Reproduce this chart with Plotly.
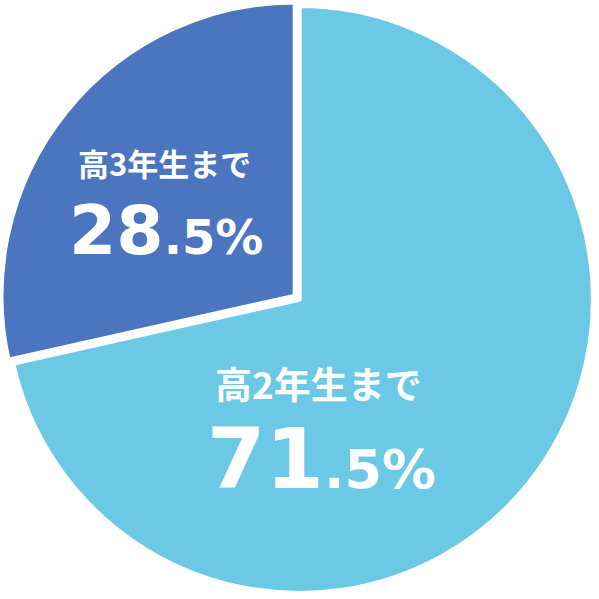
import plotly.graph_objects as go

labels = ['高2年生まで', '高3年生まで']
values = [71.5, 28.5]
colors = ['#6CC9E6', '#4B75BE']

fig = go.Figure()
fig.add_trace(go.Pie(
    labels=labels,
    values=values,
    sort=False,
    direction='clockwise',
    rotation=0,
    pull=[0, 0.02],
    textinfo='none',
    hoverinfo='skip',
    marker={'colors': colors, 'line': {'color': 'white', 'width': 4.5}},
    showlegend=False,
))

# label positions (paper coords) and font sizes per slice
label_pos = [(0.532, 0.361), (0.274, 0.729)]
num_pos = [(0.536, 0.233), (0.277, 0.616)]
label_size = [37, 31]
big_size = [84, 68]
small_size = [54, 48]

for i, v in enumerate(values):
    whole, frac = f'{v:.1f}'.split('.')
    fig.add_annotation(
        x=label_pos[i][0], y=label_pos[i][1], xref='paper', yref='paper',
        xanchor='center', yanchor='middle',
        text=labels[i], showarrow=False,
        font={'family': 'Noto Sans CJK JP', 'size': label_size[i],
              'color': 'white', 'weight': 700},
    )
    fig.add_annotation(
        x=num_pos[i][0], y=num_pos[i][1], xref='paper', yref='paper',
        xanchor='center', yanchor='middle',
        text=whole + f"<span style='font-size:{small_size[i]}px'>.{frac}%</span>",
        showarrow=False,
        font={'family': 'DejaVu Sans', 'size': big_size[i],
              'color': 'white', 'weight': 900},
    )

fig.update_layout(
    width=599, height=599,
    margin={'l': 0, 'r': 0, 't': 0, 'b': 0},
    paper_bgcolor='white',
    plot_bgcolor='white',
)

# drop the default 8px page margin so the figure sits at the window corner
fig.write_html('out.html', config={'displayModeBar': False},
               post_script="document.body.style.margin = '0';")
